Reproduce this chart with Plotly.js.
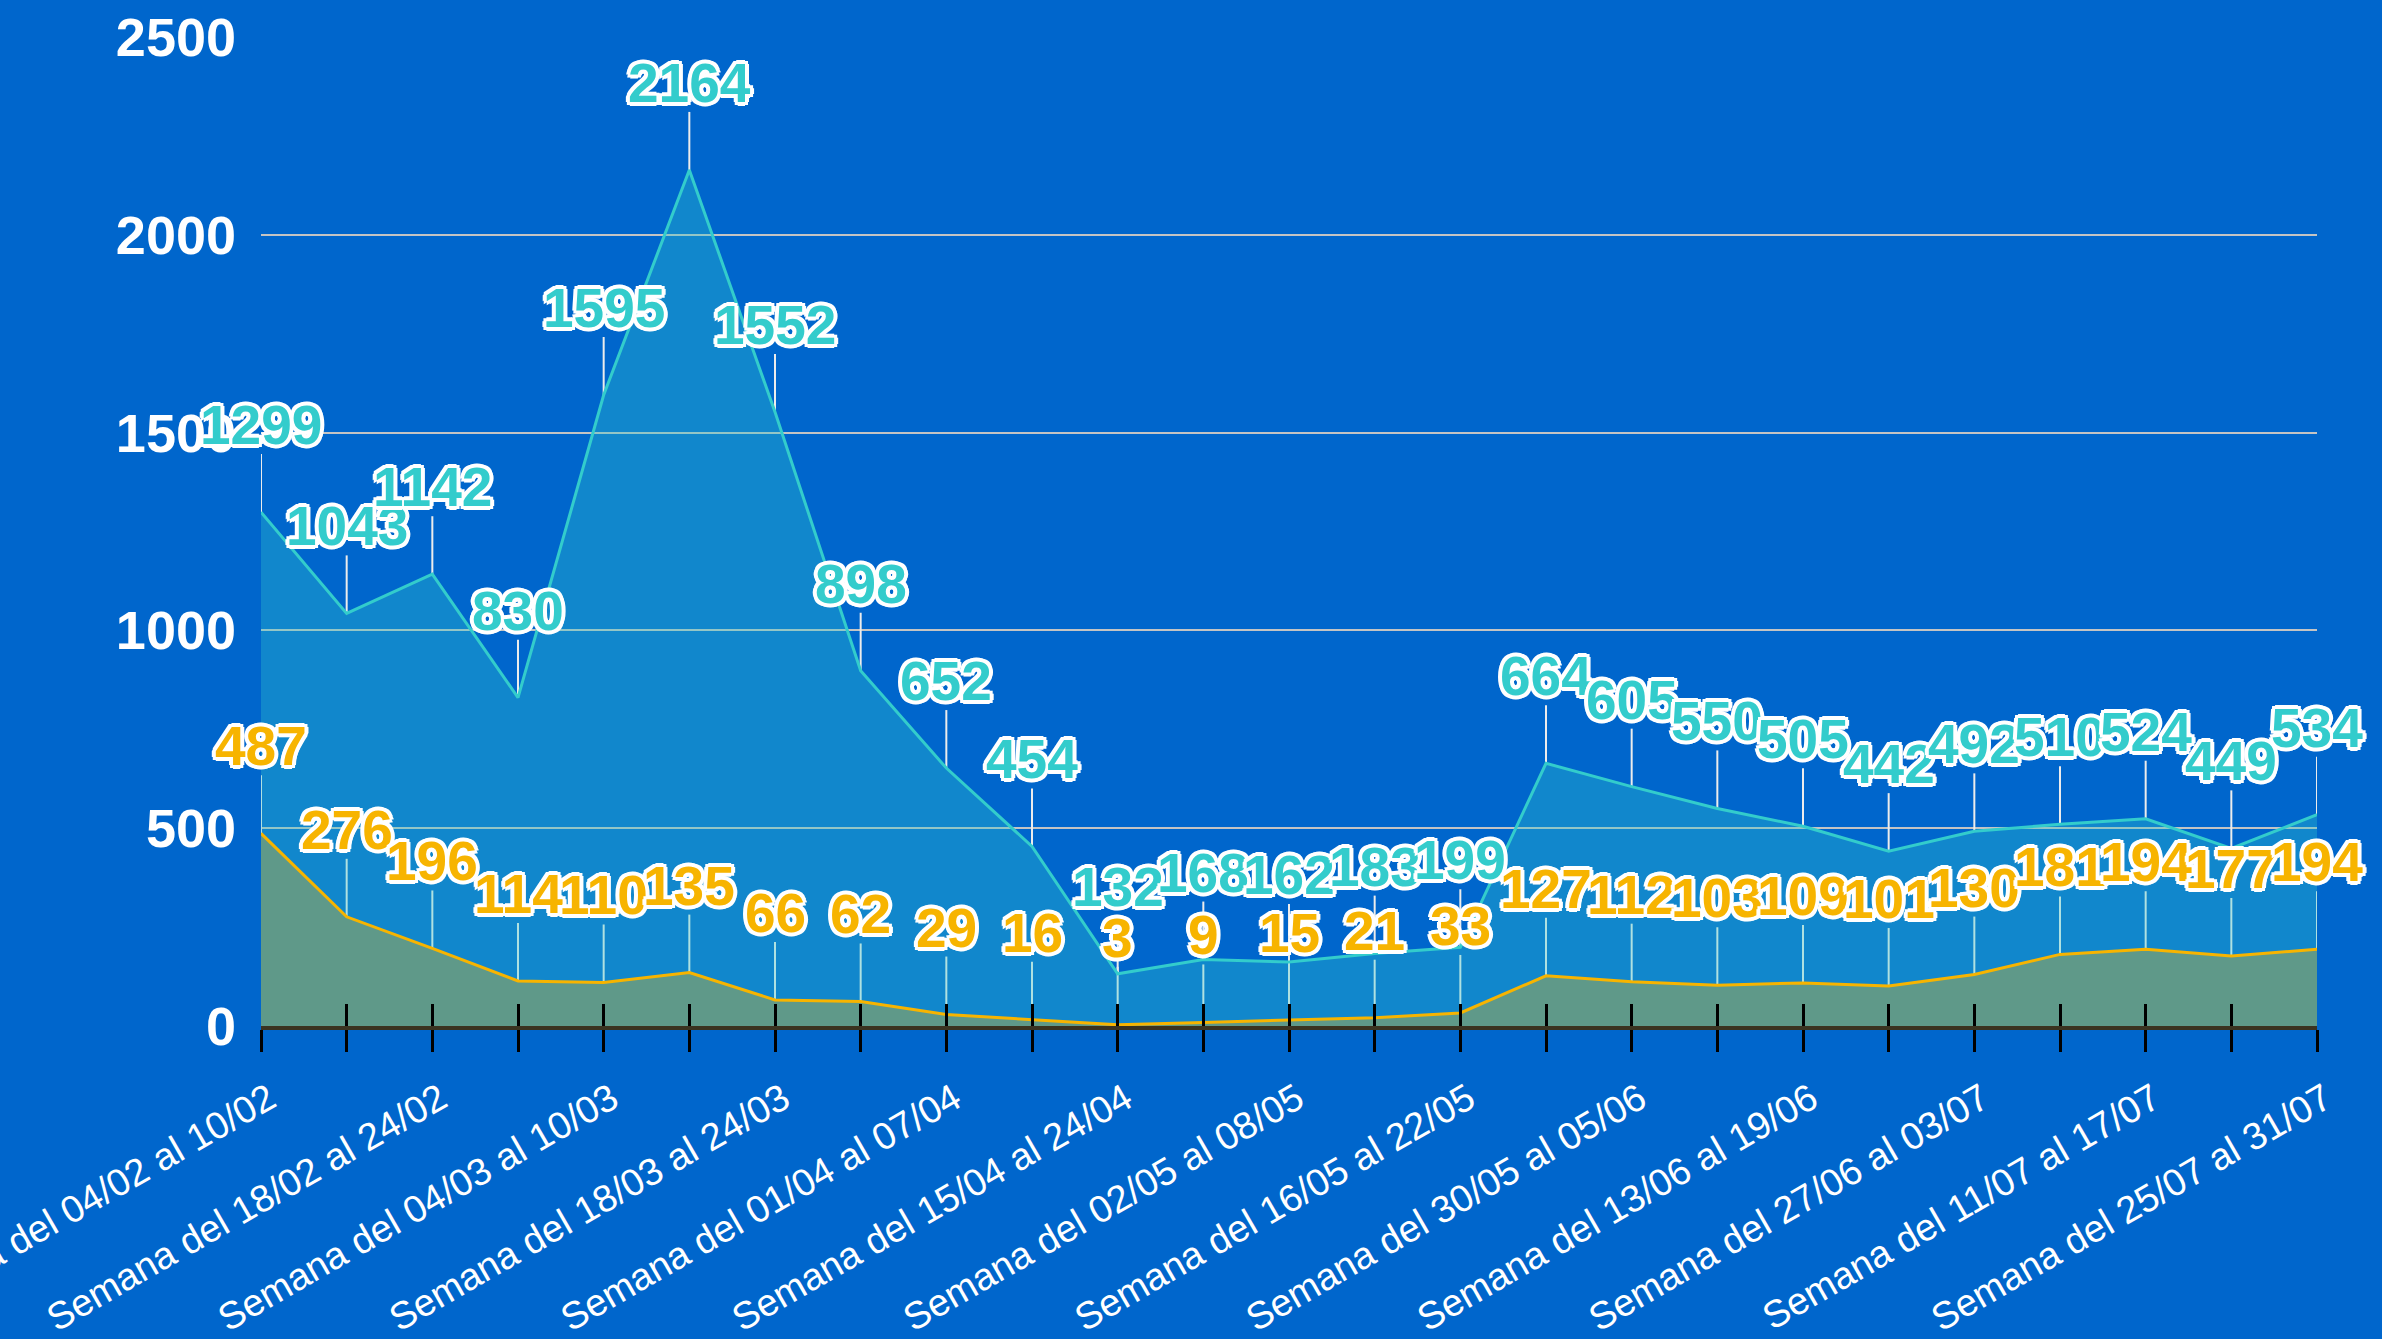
<!DOCTYPE html>
<html>
<head>
<meta charset="utf-8">
<script src="https://cdn.plot.ly/plotly-3.0.1.min.js"></script>
<style>
  html, body { margin: 0; padding: 0; background: #0066cc; }
  #chart { width: 2382px; height: 1339px; }
</style>
</head>
<body>
<div id="chart"></div>
<script>
// ---- data ----
const categories = [
  "Semana del 04/02 al 10/02", "Semana del 11/02 al 17/02",
  "Semana del 18/02 al 24/02", "Semana del 25/02 al 03/03",
  "Semana del 04/03 al 10/03", "Semana del 11/03 al 17/03",
  "Semana del 18/03 al 24/03", "Semana del 25/03 al 31/03",
  "Semana del 01/04 al 07/04", "Semana del 08/04 al 14/04",
  "Semana del 15/04 al 24/04", "Semana del 25/04 al 01/05",
  "Semana del 02/05 al 08/05", "Semana del 09/05 al 15/05",
  "Semana del 16/05 al 22/05", "Semana del 23/05 al 29/05",
  "Semana del 30/05 al 05/06", "Semana del 06/06 al 12/06",
  "Semana del 13/06 al 19/06", "Semana del 20/06 al 26/06",
  "Semana del 27/06 al 03/07", "Semana del 04/07 al 10/07",
  "Semana del 11/07 al 17/07", "Semana del 18/07 al 24/07",
  "Semana del 25/07 al 31/07"
];
const seriesCyan = [1299, 1043, 1142, 830, 1595, 2164, 1552, 898, 652, 454,
  132, 168, 162, 183, 199, 664, 605, 550, 505, 442, 492, 510, 524, 449, 534];
const seriesOrange = [487, 276, 196, 114, 110, 135, 66, 62, 29, 16,
  3, 9, 15, 21, 33, 127, 112, 103, 109, 101, 130, 181, 194, 177, 194];
const shownTickLabels = [
  "Semana del 04/02 al 10/02", "Semana del 18/02 al 24/02",
  "Semana del 04/03 al 10/03", "Semana del 18/03 al 24/03",
  "Semana del 01/04 al 07/04", "Semana del 15/04 al 24/04",
  "Semana del 02/05 al 08/05", "Semana del 16/05 al 22/05",
  "Semana del 30/05 al 05/06", "Semana del 13/06 al 19/06",
  "Semana del 27/06 al 03/07", "Semana del 11/07 al 17/07",
  "Semana del 25/07 al 31/07"
];
const yTicks = [0, 500, 1000, 1500, 2000, 2500];

// ---- styles ----
const BG = '#0066cc';
const CYAN = '#33cccc';
const ORANGE = '#f7b400';
const W = '#ffffff';
const outline = [
  '4px 0 0 ' + W, '-4px 0 0 ' + W, '0 4px 0 ' + W, '0 -4px 0 ' + W,
  '3px 3px 0 ' + W, '-3px -3px 0 ' + W, '3px -3px 0 ' + W, '-3px 3px 0 ' + W,
  '2px 0 1px ' + W, '-2px 0 1px ' + W
].join(', ');

const traces = [
  {
    x: categories, y: seriesCyan, type: 'scatter', mode: 'lines',
    line: { color: CYAN, width: 3 }, fill: 'tozeroy',
    fillcolor: 'rgba(51,204,204,0.33)', hoverinfo: 'skip', showlegend: false
  },
  {
    x: categories, y: seriesOrange, type: 'scatter', mode: 'lines',
    line: { color: ORANGE, width: 3 }, fill: 'tozeroy',
    fillcolor: 'rgba(255,192,0,0.33)', hoverinfo: 'skip', showlegend: false
  },
  {
    // carrier for the second (tick-only) x axis
    x: [0, categories.length - 1], y: [null, null], xaxis: 'x2', yaxis: 'y',
    type: 'scatter', mode: 'lines', hoverinfo: 'skip', showlegend: false
  }
];

const shapes = [];
const annotations = [];
function addLabels(values, color) {
  values.forEach((v, i) => {
    shapes.push({
      type: 'line', xref: 'x', yref: 'y', layer: 'between',
      x0: categories[i], x1: categories[i],
      ysizemode: 'pixel', yanchor: v, y0: 0, y1: 58,
      line: { color: '#ececec', width: 2 }
    });
    annotations.push({
      x: categories[i], y: v, xref: 'x', yref: 'y',
      text: String(v), showarrow: false, yshift: 87,
      xanchor: 'center', yanchor: 'middle',
      font: { family: 'Liberation Sans, Arial, sans-serif', size: 55, weight: 700,
              color: color, shadow: outline }
    });
  });
}
addLabels(seriesCyan, CYAN);
addLabels(seriesOrange, ORANGE);

const layout = {
  width: 2382, height: 1339,
  paper_bgcolor: BG, plot_bgcolor: BG,
  margin: { l: 261, r: 65, t: 37, b: 313 },
  showlegend: false,
  xaxis: {
    type: 'category', range: [0, categories.length - 1],
    tickmode: 'array', tickvals: categories,
    ticktext: categories.map(c => shownTickLabels.includes(c) ? c : ''),
    ticks: 'outside', ticklen: 22, tickwidth: 3, tickcolor: '#000000',
    tickangle: -30, ticklabelstandoff: 10, ticklabelshift: 8,
    tickfont: { family: 'Liberation Sans, Arial, sans-serif', size: 38, color: '#ffffff' },
    showline: true, linecolor: '#3a3320', linewidth: 4,
    showgrid: false, zeroline: false, fixedrange: true
  },
  xaxis2: {
    overlaying: 'x', anchor: 'y', side: 'bottom', range: [0, categories.length - 1],
    tickmode: 'array', tickvals: categories.map((c, i) => i),
    ticks: 'inside', ticklen: 22, tickwidth: 3, tickcolor: '#000000',
    showticklabels: false, showline: false, showgrid: false, zeroline: false,
    fixedrange: true
  },
  yaxis: {
    range: [0, 2500], tickmode: 'array', tickvals: yTicks,
    ticks: '', ticklabelstandoff: 24,
    tickfont: { family: 'Liberation Sans, Arial, sans-serif', size: 54, weight: 700, color: '#ffffff' },
    showgrid: true, gridcolor: '#c4c4c4', gridwidth: 2,
    zeroline: false, showline: false, fixedrange: true
  },
  shapes: shapes,
  annotations: annotations
};

Plotly.newPlot('chart', traces, layout, { displayModeBar: false, staticPlot: true });
</script>
</body>
</html>
